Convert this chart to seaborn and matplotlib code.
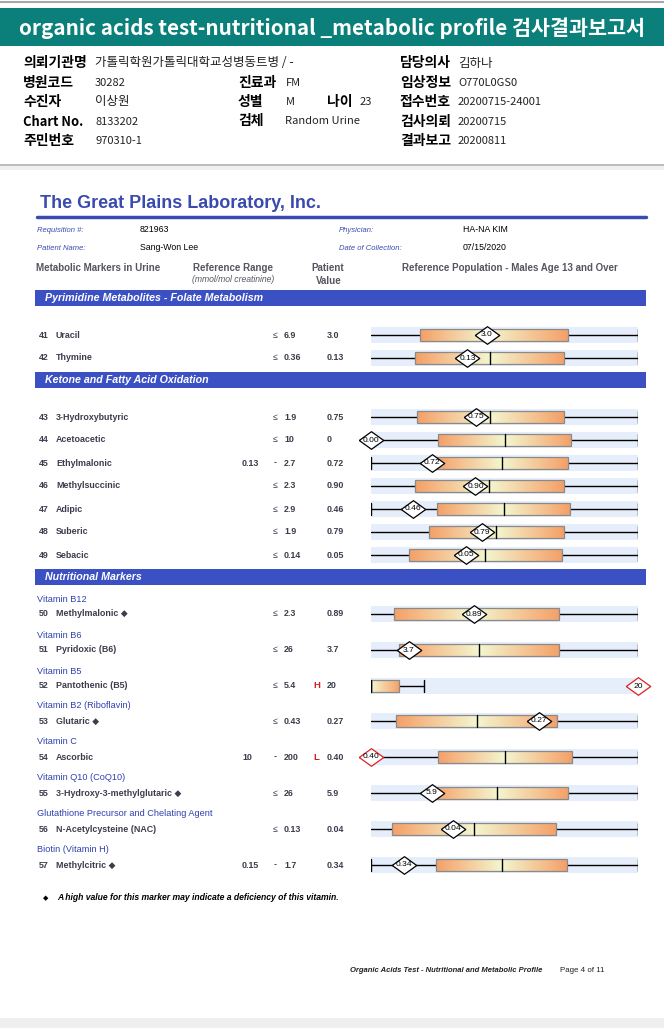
import numpy as np
import matplotlib
matplotlib.use('Agg')
import matplotlib.pyplot as plt
import seaborn as sns
from matplotlib.colors import LinearSegmentedColormap
from matplotlib.patches import Rectangle

# marker data (mmol/mol creatinine)
numbers = list(range(41, 58))
names = ['Uracil', 'Thymine', '3-Hydroxybutyric', 'Acetoacetic', 'Ethylmalonic',
         'Methylsuccinic', 'Adipic', 'Suberic', 'Sebacic', 'Methylmalonic',
         'Pyridoxic (B6)', 'Pantothenic (B5)', 'Glutaric', 'Ascorbic',
         '3-Hydroxy-3-methylglutaric', 'N-Acetylcysteine (NAC)', 'Methylcitric']
deficiency_mark = [False] * 9 + [True, False, False, True, False, True, False, True]
ref_low = [None, None, None, None, 0.13, None, None, None, None,
           None, None, None, None, 10, None, None, 0.15]
ref_high = [6.9, 0.36, 1.9, 10, 2.7, 2.3, 2.9, 1.9, 0.14,
            2.3, 26, 5.4, 0.43, 200, 26, 0.13, 1.7]
ref_low_text = ['', '', '', '', '0.13', '', '', '', '', '', '', '', '', '10', '', '', '0.15']
ref_high_text = ['6.9', '0.36', '1.9', '10', '2.7', '2.3', '2.9', '1.9', '0.14',
                 '2.3', '26', '5.4', '0.43', '200', '26', '0.13', '1.7']
values = [3.0, 0.13, 0.75, 0, 0.72, 0.90, 0.46, 0.79, 0.05,
          0.89, 3.7, 20, 0.27, 0.40, 5.9, 0.04, 0.34]
value_text = ['3.0', '0.13', '0.75', '0', '0.72', '0.90', '0.46', '0.79', '0.05',
              '0.89', '3.7', '20', '0.27', '0.40', '5.9', '0.04', '0.34']
diamond_text = ['3.0', '0.13', '0.75', '0.00', '0.72', '0.90', '0.46', '0.79', '0.05',
                '0.89', '3.7', '20', '0.27', '0.40', '5.9', '0.04', '0.34']
flags = [''] * 11 + ['H', '', 'L', '', '', '']

# reference population box (q1, median, q3) and right whisker end
pop_q1 = [1.27, 0.059, 0.33, 2.5, 0.75, 0.38, 0.72, 0.41, 0.020,
          0.20, 2.7, 0, 0.040, 58, 5.9, 0.010, 0.53]
pop_med = [3.0, 0.16, 0.85, 5.0, 1.39, 1.02, 1.44, 0.89, 0.060,
           0.89, 10.5, 0, 0.17, 105, 12.3, 0.050, 0.91]
pop_q3 = [5.09, 0.26, 1.37, 7.5, 2.03, 1.66, 2.16, 1.37, 0.10,
          1.62, 18.3, 2.1, 0.30, 153, 19.2, 0.090, 1.29]
whisker_hi = [6.9, 0.36, 1.9, 10, 2.7, 2.3, 2.9, 1.9, 0.14,
              2.3, 26, 4.0, 0.43, 200, 26, 0.13, 1.7]
left_cap = [False, False, False, False, True, False, True, False, False,
            False, False, True, False, False, False, False, True]

group_labels = {9: 'Vitamin B12', 10: 'Vitamin B6', 11: 'Vitamin B5',
                12: 'Vitamin B2 (Riboflavin)', 13: 'Vitamin C',
                14: 'Vitamin Q10 (CoQ10)', 15: 'Glutathione Precursor and Chelating Agent',
                16: 'Biotin (Vitamin H)'}
sections = ['Pyrimidine Metabolites - Folate Metabolism',
            'Ketone and Fatty Acid Oxidation', 'Nutritional Markers']

# page layout (pixels)
row_y = [335, 358, 417, 440, 463, 486, 509, 532, 555,
         614, 650, 686, 721, 757, 793, 829, 865]
section_y = [290, 372, 569]

sns.set_theme(style='white')
plt.rcParams['font.family'] = ['Liberation Sans', 'DejaVu Sans']
KR = ['Noto Sans CJK KR', 'DejaVu Sans']
BLUE = '#3a4bb0'
GREY = '#3c3c4c'

fig = plt.figure(figsize=(6.64, 10.28), dpi=100)
ax = fig.add_axes([0, 0, 1, 1])
ax.set_xlim(0, 664)
ax.set_ylim(1028, 0)
ax.axis('off')

# header
ax.axhline(1.5, color='#a8a8a8', lw=1.5)
ax.add_patch(Rectangle((0, 8), 664, 38, color='#0b7f7a', lw=0))
ax.text(332, 28, 'organic acids test-nutritional _metabolic profile 검사결과보고서',
        color='white', fontsize=14.9, fontweight='bold', family=KR, ha='center', va='center')

info = [
    (23, 63, '의뢰기관명', 95, '가톨릭학원가톨릭대학교성병동트병 / -'),
    (400, 63, '담당의사', 458, '김하나'),
    (23, 83, '병원코드', 95, '30282'),
    (238, 83, '진료과', 286, 'FM'),
    (400, 83, '임상정보', 458, 'O770L0GS0'),
    (23, 102, '수진자', 95, '이상원'),
    (238, 102, '성별', 286, 'M'),
    (327, 102, '나이', 360, '23'),
    (400, 102, '접수번호', 458, '20200715-24001'),
    (23, 122, 'Chart No.', 95, '8133202'),
    (238, 121, '검체', 285, 'Random Urine'),
    (400, 122, '검사의뢰', 458, '20200715'),
    (23, 141, '주민번호', 95, '970310-1'),
    (400, 141, '결과보고', 458, '20200811'),
]
for lx, ly, lab, vx, val in info:
    hangul_lab = any('\uac00' <= c <= '\ud7a3' for c in lab)
    hangul_val = any('\uac00' <= c <= '\ud7a3' for c in val)
    ax.text(lx, ly, lab, fontsize=10 if hangul_lab else 9.3, fontweight='bold', family=KR,
            va='center', color='black')
    ax.text(vx, ly, val, fontsize=9 if hangul_val else 8, family=KR, va='center', color='#222222')

ax.axhline(165, color='#b0b0b0', lw=1.2)
ax.add_patch(Rectangle((0, 166), 664, 4, color='#efefef', lw=0))
ax.add_patch(Rectangle((0, 1018), 664, 10, color='#efefef', lw=0))

# report head
ax.text(40, 203, 'The Great Plains Laboratory, Inc.', color=BLUE, fontsize=13,
        fontweight='bold', va='center')
ax.plot([37, 646], [217, 217], color=BLUE, lw=2.5)
ax.text(37, 230, 'Requisition #:', color=BLUE, fontsize=5.5, style='italic', va='center')
ax.text(140, 230, '821963', fontsize=6.3, va='center', color='black')
ax.text(339, 230, 'Physician:', color=BLUE, fontsize=5.5, style='italic', va='center')
ax.text(463, 230, 'HA-NA KIM', fontsize=6.3, va='center', color='black')
ax.text(37, 248, 'Patient Name:', color=BLUE, fontsize=5.5, style='italic', va='center')
ax.text(140, 248, 'Sang-Won Lee', fontsize=6.3, va='center', color='black')
ax.text(339, 248, 'Date of Collection:', color=BLUE, fontsize=5.5, style='italic', va='center')
ax.text(463, 248, '07/15/2020', fontsize=6.3, va='center', color='black')

HC = '#555560'
ax.text(36, 268, 'Metabolic Markers in Urine', fontsize=7, fontweight='bold', color=HC, va='center')
ax.text(233, 268, 'Reference Range', fontsize=7, fontweight='bold', color=HC, va='center', ha='center')
ax.text(233, 280, '(mmol/mol creatinine)', fontsize=6.2, style='italic', color=HC, va='center', ha='center')
ax.text(328, 268, 'Patient', fontsize=7, fontweight='bold', color=HC, va='center', ha='center')
ax.text(329, 281, 'Value', fontsize=7, fontweight='bold', color=HC, va='center', ha='center')
ax.text(402, 268, 'Reference Population - Males Age 13 and Over', fontsize=7,
        fontweight='bold', color=HC, va='center')

for title, sy in zip(sections, section_y):
    ax.add_patch(Rectangle((35, sy), 611, 16, color='#3b50c2', lw=0))
    ax.text(45, sy + 8, title, color='white', fontsize=7.7, fontweight='bold',
            style='italic', va='center')

# left table
for i, y in enumerate(row_y):
    ax.text(39, y, str(numbers[i]), fontsize=6.4, fontweight='bold', color=GREY, va='center')
    nm = names[i] + (' ◆' if deficiency_mark[i] else '')
    ax.text(56, y, nm, fontsize=6.4, fontweight='bold', color=GREY, va='center')
    if ref_low[i] is None:
        ax.text(273, y, '≤', fontsize=6.3, color=GREY, va='center')
    else:
        ax.text(242, y, ref_low_text[i], fontsize=6.4, fontweight='bold', color=GREY, va='center')
        ax.text(274, y, '-', fontsize=6.4, fontweight='bold', color=GREY, va='center')
    ax.text(284, y, ref_high_text[i], fontsize=6.4, fontweight='bold', color=GREY, va='center')
    ax.text(327, y, value_text[i], fontsize=6.4, fontweight='bold', color=GREY, va='center')
    if flags[i]:
        ax.text(313, y, flags[i], fontsize=6.8, fontweight='bold', color='#d42020', va='center')
    if i in group_labels:
        ax.text(37, y - 15, group_labels[i], fontsize=6.6, color='#3040b0', va='center')

ax.text(43, 898, '◆', fontsize=5, color='black', va='center', family=['DejaVu Sans'])
ax.text(57, 898, 'A high value for this marker may indicate a deficiency of this vitamin.',
        fontsize=6.2, fontweight='bold', style='italic', color='black', va='center')
ax.text(350, 970, 'Organic Acids Test - Nutritional and Metabolic Profile', fontsize=5.5,
        style='italic', fontweight='bold', color='#222222', va='center')
ax.text(560, 970, 'Page 4 of 11', fontsize=5.7, color='#222222', va='center')

# reference population chart
axb = fig.add_axes([371 / 664, 0, 267 / 664, 1])
axb.set_xlim(0, 1)
axb.set_ylim(1028, 0)
axb.axis('off')

cmap = LinearSegmentedColormap.from_list('pop', ['#f5a068', '#f3f6cf'])

frac_val = []
for i, y in enumerate(row_y):
    lo = ref_low[i] if ref_low[i] is not None else 0.0
    hi = max(ref_high[i], values[i])
    f = lambda v: (v - lo) / (hi - lo)
    q1, md, q3, wh = f(pop_q1[i]), f(pop_med[i]), f(pop_q3[i]), f(whisker_hi[i])
    frac_val.append(min(max(f(values[i]), 0), 1))

    axb.add_patch(Rectangle((0, y - 8), 1, 16, color='#e6eefb', lw=0, zorder=0))
    axb.plot([0, q1], [y, y], color='black', lw=1, zorder=1)
    axb.plot([q3, wh], [y, y], color='black', lw=1, zorder=1)
    axb.plot([wh, wh], [y - 6, y + 6], color='black', lw=1, zorder=1)
    if left_cap[i]:
        axb.plot([0, 0], [y - 6, y + 6], color='black', lw=1, zorder=3)

    xs = np.linspace(q1, q3, 200)
    left_w = max(md - q1, 1e-9)
    right_w = max(q3 - md, 1e-9)
    t = np.where(xs < md, 1 - (md - xs) / left_w, 1 - (xs - md) / right_w)
    axb.imshow(t[None, :], extent=[q1, q3, y + 6, y - 6], cmap=cmap, vmin=0, vmax=1,
               aspect='auto', zorder=2, interpolation='bilinear')
    axb.add_patch(Rectangle((q1, y - 6), q3 - q1, 12, fill=False, ec='#8a8a8a', lw=0.9, zorder=3))
    axb.plot([md, md], [y - 6, y + 6], color='black', lw=1, zorder=3)

axb.set_xlim(0, 1)
axb.set_ylim(1028, 0)

diamond = [(-1, 0), (0, 0.72), (1, 0), (0, -0.72), (-1, 0)]
ok = [k for k in range(len(values)) if not flags[k]]
bad = [k for k in range(len(values)) if flags[k]]
sns.scatterplot(x=[frac_val[k] for k in ok], y=[row_y[k] for k in ok], marker=diamond, s=310,
                color='white', edgecolor='black', linewidth=0.9, ax=axb, zorder=5,
                clip_on=False, legend=False)
sns.scatterplot(x=[frac_val[k] for k in bad], y=[row_y[k] for k in bad], marker=diamond, s=310,
                color='white', edgecolor='#e02020', linewidth=0.9, ax=axb, zorder=5,
                clip_on=False, legend=False)
for i, y in enumerate(row_y):
    axb.text(frac_val[i], y, diamond_text[i], fontsize=6.1, ha='center', va='center',
             color='black', zorder=6, clip_on=False)
axb.set_xlim(0, 1)
axb.set_ylim(1028, 0)
axb.axis('off')

fig.savefig('out.png', dpi=100)
